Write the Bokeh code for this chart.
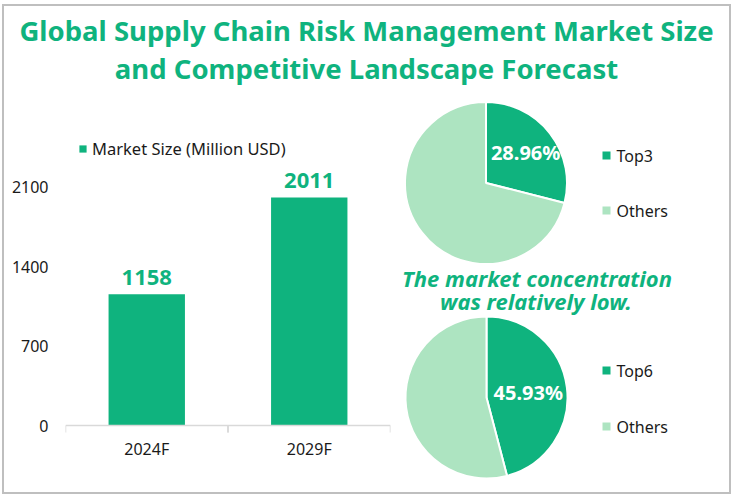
import math
from bokeh.plotting import figure
from bokeh.layouts import column, row
from bokeh.models import Range1d, FactorRange, FixedTicker, Legend, LegendItem, ColumnDataSource, Span
from bokeh.transform import dodge
from bokeh.core.properties import value
from bokeh.embed import file_html
from bokeh.resources import INLINE

# ---------------- data ----------------
title_lines = ["Global Supply Chain Risk Management Market Size",
               "and Competitive Landscape Forecast"]
years = ["2024F", "2029F"]
market_size = [1158, 2011]
y_ticks = [0, 700, 1400, 2100]
bar_legend = "Market Size (Million USD)"
pie1_labels = ["Top3", "Others"]
pie1_share = [28.96, 71.04]
pie2_labels = ["Top6", "Others"]
pie2_share = [45.93, 54.07]
note_lines = ["The market concentration", "was relatively low."]

# ---------------- styles ----------------
DARK = "#0FB37E"
LIGHT = "#ADE4C1"
FRAME = "#BFBFBF"
TXT = "#1A1A1A"
FONT = "Noto Sans"

W = 725          # content width inside frame
TH = 94          # title strip height
BH = 392         # lower strip height
BW = 388         # bar chart width
RW = W - BW      # pie panel width

BASE_PX = 325            # baseline position from top of bar panel
PX_PER_UNIT = 79.4 / 700  # vertical scale of the bar chart


def clean(p):
    p.axis.visible = False
    p.grid.visible = False
    p.outline_line_color = None
    p.background_fill_color = None
    p.border_fill_color = None


# ---------------- title ----------------
t = figure(width=W, height=TH, x_range=Range1d(0, W), y_range=Range1d(TH, 0),
           output_backend="svg", toolbar_location=None, min_border=0)
clean(t)
t.text(x=[W / 2 - 0.5, W / 2 - 0.5], y=[24, 62], text=title_lines, text_align="center",
       text_baseline="middle", text_font=value(FONT), text_font_style="bold",
       text_font_size="27.5px", text_color=DARK)

# ---------------- bar chart ----------------
b = figure(width=BW, height=BH, x_range=FactorRange(*years),
           y_range=Range1d(-(BH - BASE_PX) / PX_PER_UNIT, BASE_PX / PX_PER_UNIT),
           output_backend="svg", toolbar_location=None,
           min_border_left=61, min_border_right=2, min_border_top=0, min_border_bottom=0)
b.grid.visible = False
b.outline_line_color = None
b.background_fill_color = None
b.border_fill_color = None
b.xaxis.visible = False

src = ColumnDataSource(dict(x=years, top=market_size, lab=[str(v) for v in market_size],
                            zero=[0] * len(years)))
bars = b.vbar(x="x", top="top", bottom=0, width=0.47, source=src,
              fill_color=DARK, line_color=None)
b.text(x="x", y="top", text="lab", source=src, y_offset=-9, text_align="center",
       text_baseline="bottom", text_font=value(FONT), text_font_style="bold",
       text_font_size="22px", text_color=DARK)

# category axis drawn at value 0
b.add_layout(Span(location=0, dimension="width", line_color="#D9D9D9", line_width=1.5))
tick_len = 7 / PX_PER_UNIT
b.segment(x0=dodge("x", -0.5, range=b.x_range), x1=dodge("x", -0.5, range=b.x_range),
          y0=0, y1=-tick_len, source=src, line_color="#D9D9D9", line_width=1.5)
b.segment(x0=dodge("x", 0.5, range=b.x_range), x1=dodge("x", 0.5, range=b.x_range),
          y0=0, y1=-tick_len, source=src, line_color="#D9D9D9", line_width=1.5)
b.text(x="x", y="zero", text="x", source=src, y_offset=23, text_align="center",
       text_baseline="middle", text_font=value(FONT), text_font_size="16px",
       text_color=TXT)

b.yaxis.ticker = FixedTicker(ticks=y_ticks)
b.yaxis.axis_line_color = None
b.yaxis.major_tick_line_color = None
b.yaxis.minor_tick_line_color = None
b.yaxis.major_tick_out = 0
b.yaxis.major_label_standoff = 17
b.yaxis.major_label_text_font = FONT
b.yaxis.major_label_text_font_size = "16px"
b.yaxis.major_label_text_color = TXT

leg = Legend(items=[LegendItem(label=bar_legend, renderers=[bars])], location=(13, 332),
             padding=0, margin=0, border_line_color=None, background_fill_alpha=0,
             glyph_width=9, glyph_height=9, label_standoff=5,
             label_text_font=FONT, label_text_font_size="16.5px", label_text_color=TXT)
b.add_layout(leg)

# ---------------- pies ----------------
r = figure(width=RW, height=BH, x_range=Range1d(0, RW), y_range=Range1d(0, BH),
           output_backend="svg", toolbar_location=None, min_border=0)
clean(r)

R = 81


def pie(cx, cy, labels, shares, label_r, legend_x, legend_y0, legend_gap):
    starts, ends = [], []
    end = math.pi / 2
    for s in shares:
        a = 2 * math.pi * s / 100
        starts.append(end - a)
        ends.append(end)
        end = end - a
    colors = [DARK, LIGHT]
    r.wedge(x=cx, y=cy, radius=R, start_angle=starts, end_angle=ends,
            fill_color=colors, line_color="white", line_width=2)
    mid = (starts[0] + ends[0]) / 2
    r.text(x=[cx + label_r * R * math.cos(mid)], y=[cy + label_r * R * math.sin(mid)],
           text=[f"{shares[0]:.2f}%"], text_align="center", text_baseline="middle",
           text_font=value(FONT), text_font_style="bold", text_font_size="20px",
           text_color="white")
    ly = [legend_y0 - i * legend_gap for i in range(len(labels))]
    r.scatter(x=[legend_x] * len(labels), y=ly, marker="square", size=8,
              fill_color=colors, line_color=None)
    r.text(x=[legend_x + 10] * len(labels), y=ly, text=labels, text_align="left",
           text_baseline="middle", text_font=value(FONT), text_font_size="16px",
           text_color=TXT)


pie(93.5, 309.5, pie1_labels, pie1_share, 0.62, 214, 337, 55)
pie(94, 95, pie2_labels, pie2_share, 0.52, 214, 122, 56)

r.text(x=[144.5, 143.5], y=[215, 192], text=note_lines, text_align="center",
       text_baseline="middle", text_font=value(FONT), text_font_style="bold italic",
       text_font_size="22px", text_color=DARK)

lay = column(t, row(b, r), margin=(4, 0, 0, 2), styles={"border": f"2px solid {FRAME}"})

open("out.html", "w").write(file_html(lay, INLINE))
